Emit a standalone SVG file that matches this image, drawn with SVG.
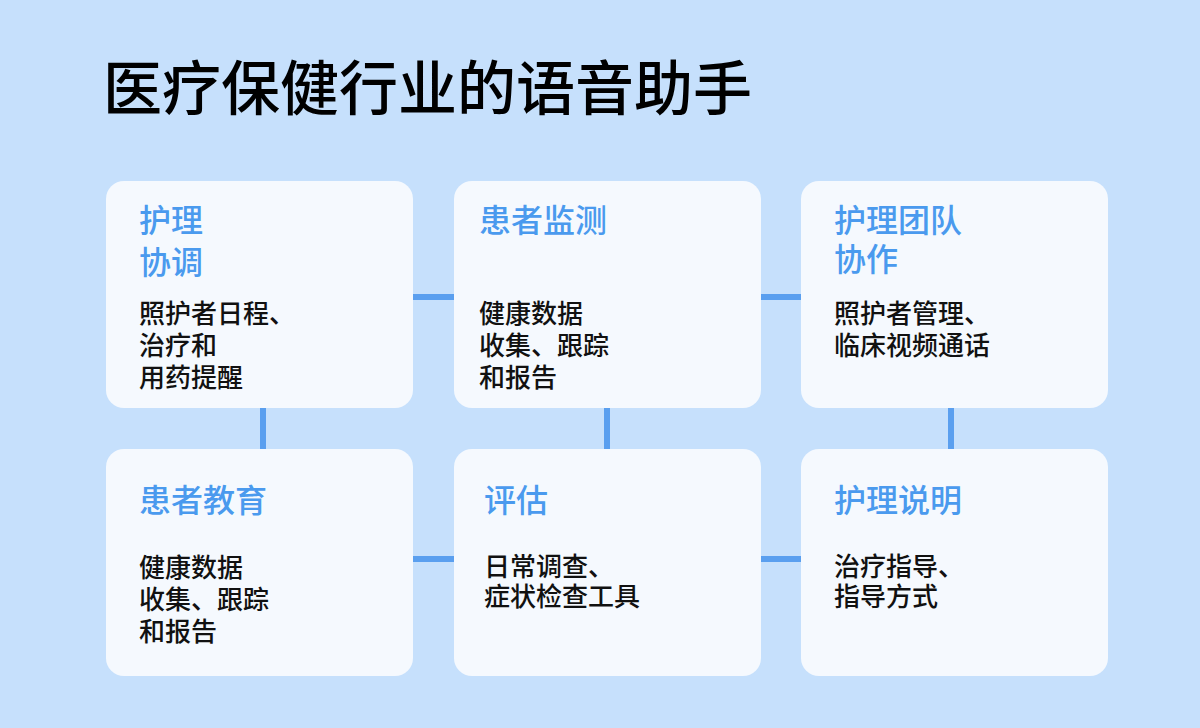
<svg xmlns="http://www.w3.org/2000/svg" width="1200" height="728" viewBox="0 0 1200 728">
<style>
.card{fill:#f5f9fe}
.t{font-family:"Noto Sans CJK SC",sans-serif;font-size:32px;font-weight:500;fill:#4a9aee}
.b{font-family:"Noto Sans CJK SC",sans-serif;font-size:26px;font-weight:500;fill:#111}
.c{stroke:#5a9fef;stroke-width:6;fill:none}
</style>
<rect width="1200" height="728" fill="#c6e0fc"/>
<text x="103" y="110" font-family="Noto Sans CJK SC,sans-serif" font-size="59" font-weight="500" fill="#000">医疗保健行业的语音助手</text>
<g id="connectors">
<line class="c" x1="413" y1="297" x2="454" y2="297"/>
<line class="c" x1="761" y1="297" x2="801" y2="297"/>
<line class="c" x1="413" y1="559" x2="454" y2="559"/>
<line class="c" x1="761" y1="559" x2="801" y2="559"/>
<line class="c" x1="263" y1="408" x2="263" y2="449"/>
<line class="c" x1="607" y1="408" x2="607" y2="449"/>
<line class="c" x1="951" y1="408" x2="951" y2="449"/>
</g>
<g id="n1"><rect class="card" x="106" y="181" width="307" height="227" rx="18"/>
<text class="t" x="139" y="232">护理</text><text class="t" x="139" y="274">协调</text>
<text class="b" x="139" y="323">照护者日程、</text><text class="b" x="139" y="355">治疗和</text><text class="b" x="139" y="387">用药提醒</text></g>
<g id="n2"><rect class="card" x="454" y="181" width="307" height="227" rx="18"/>
<text class="t" x="479" y="232">患者监测</text>
<text class="b" x="479" y="323">健康数据</text><text class="b" x="479" y="355">收集、跟踪</text><text class="b" x="479" y="387">和报告</text></g>
<g id="n3"><rect class="card" x="801" y="181" width="307" height="227" rx="18"/>
<text class="t" x="834" y="232">护理团队</text><text class="t" x="834" y="271">协作</text>
<text class="b" x="834" y="323">照护者管理、</text><text class="b" x="834" y="355">临床视频通话</text></g>
<g id="n4"><rect class="card" x="106" y="449" width="307" height="227" rx="18"/>
<text class="t" x="139" y="512">患者教育</text>
<text class="b" x="139" y="577">健康数据</text><text class="b" x="139" y="609">收集、跟踪</text><text class="b" x="139" y="641">和报告</text></g>
<g id="n5"><rect class="card" x="454" y="449" width="307" height="227" rx="18"/>
<text class="t" x="484" y="512">评估</text>
<text class="b" x="484" y="576">日常调查、</text><text class="b" x="484" y="606">症状检查工具</text></g>
<g id="n6"><rect class="card" x="801" y="449" width="307" height="227" rx="18"/>
<text class="t" x="834" y="512">护理说明</text>
<text class="b" x="834" y="576">治疗指导、</text><text class="b" x="834" y="606">指导方式</text></g>
</svg>
